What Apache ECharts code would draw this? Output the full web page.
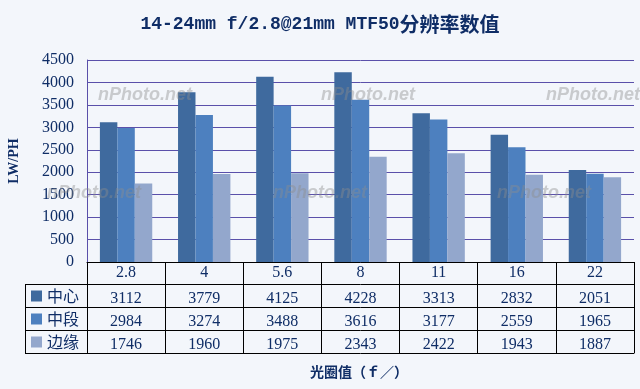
<!DOCTYPE html>
<html><head><meta charset="utf-8">
<script src="https://cdn.jsdelivr.net/npm/echarts@6/dist/echarts.min.js"></script>
<style>html,body{margin:0;padding:0;background:#f3f6fb}#c{width:640px;height:389px}</style>
</head><body><div id="c"></div>
<script>
const categories = ['2.8', '4', '5.6', '8', '11', '16', '22'];
const seriesNames = ['中心', '中段', '边缘'];
const centerVals = [3112, 3779, 4125, 4228, 3313, 2832, 2051];
const midVals = [2984, 3274, 3488, 3616, 3177, 2559, 1965];
const edgeVals = [1746, 1960, 1975, 2343, 2422, 1943, 1887];
const colors = ['#3f6a9e', '#4d80bf', '#93a7cc'];
const navy = '#0f2d66';
const numFont = 'Liberation Serif';
const cjkFont = 'Noto Sans CJK SC';

const chart = echarts.init(document.getElementById('c'));

function tableAxis(offset, vals, margin) {
  return {
    type: 'category', gridIndex: 0, position: 'bottom', offset: offset,
    data: categories,
    axisLine: { show: true, lineStyle: { color: '#000', width: 1 } },
    axisTick: { show: vals !== undefined, length: 23, interval: 0, lineStyle: { color: '#000', width: 1 } },
    axisLabel: { show: vals !== undefined, interval: 0, margin: margin, color: navy,
      fontFamily: numFont, fontSize: 16,
      formatter: (v, i) => vals ? String(vals[i]) : '' },
    splitLine: { show: false }
  };
}

const wm = [[98, 97], [321, 97], [546, 97], [47, 195], [273, 195], [497, 195]];
const graphics = [];
wm.forEach(p => graphics.push({
  type: 'text', left: p[0], top: p[1] - 11, z: 100, silent: true,
  style: { text: 'nPhoto.net', font: 'italic bold 18px "Liberation Sans", Arial', fill: 'rgba(140,140,140,0.42)' }
}));
// legend column frame
graphics.push({ type: 'line', z: 50, shape: { x1: 25.5, y1: 284.5, x2: 25.5, y2: 353.5 }, style: { stroke: '#000', lineWidth: 1 } });
[284.5, 307.5, 330.5, 353.5].forEach(y => graphics.push({ type: 'line', z: 50, shape: { x1: 25, y1: y, x2: 88, y2: y }, style: { stroke: '#000', lineWidth: 1 } }));
graphics.push({
  type: 'text', left: 310, top: 365, z: 50,
  style: { text: '光圈值（ｆ／）', font: 'bold 14px "Noto Sans CJK SC"', fill: navy }
});

chart.setOption({
  backgroundColor: '#f3f6fb',
  animation: false,
  color: colors,
  title: {
    left: 'center', top: 9,
    text: '{a|14-24mm f/2.8@21mm MTF50}{b|分辨率数值}',
    textStyle: { rich: {
      a: { fontFamily: 'Liberation Mono', fontSize: 18, fontWeight: 'bold', color: navy },
      b: { fontFamily: cjkFont, fontSize: 20, fontWeight: 'bold', color: navy }
    } }
  },
  legend: {
    data: seriesNames, orient: 'vertical', left: 31, top: 288, padding: 0,
    itemWidth: 11, itemHeight: 11, itemGap: 7, icon: 'rect',
    textStyle: { fontFamily: cjkFont, fontSize: 16, lineHeight: 16, color: navy }
  },
  grid: { left: 87, right: 6, top: 60, bottom: 127, containLabel: false, outerBoundsMode: 'none' },
  xAxis: [
    {
      type: 'category', gridIndex: 0, position: 'bottom', data: categories,
      axisLine: { show: true, lineStyle: { color: '#000', width: 1 } },
      axisTick: { show: true, length: 22, interval: 0, lineStyle: { color: '#000', width: 1 } },
      axisLabel: { interval: 0, margin: 3, color: navy, fontFamily: numFont, fontSize: 16 },
      splitLine: { show: false }
    },
    tableAxis(22, centerVals, 7),
    tableAxis(45, midVals, 7),
    tableAxis(68, edgeVals, 7),
    tableAxis(91, undefined, 0)
  ],
  yAxis: {
    type: 'value', min: 0, max: 4500, interval: 500,
    name: 'LW/PH', nameLocation: 'middle', nameRotate: 90, nameGap: 66,
    nameTextStyle: { fontFamily: numFont, fontWeight: 'bold', fontSize: 14, color: navy },
    axisLine: { show: true, lineStyle: { color: '#5a50aa', width: 1 } },
    axisTick: { show: false },
    axisLabel: { margin: 13, color: navy, fontFamily: numFont, fontSize: 16, formatter: v => String(v) },
    splitLine: { show: true, lineStyle: { color: '#5a50aa', width: 1 } }
  },
  series: [
    { name: seriesNames[0], type: 'bar', data: centerVals, barGap: '0%', barCategoryGap: '33%' },
    { name: seriesNames[1], type: 'bar', data: midVals, barGap: '0%', barCategoryGap: '33%' },
    { name: seriesNames[2], type: 'bar', data: edgeVals, barGap: '0%', barCategoryGap: '33%' }
  ],
  graphic: graphics
});
</script></body></html>
